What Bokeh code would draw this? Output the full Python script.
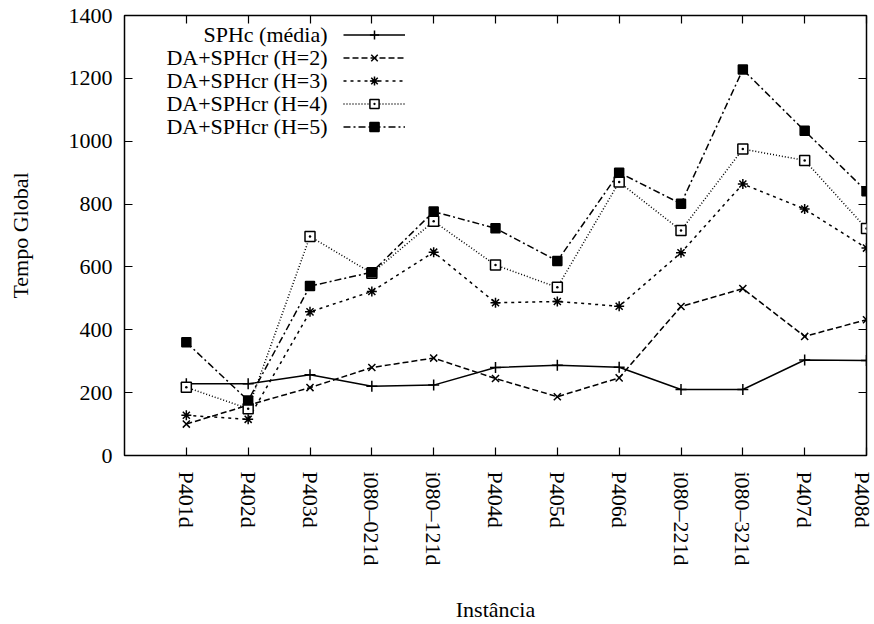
from bokeh.plotting import figure
from bokeh.models import (Range1d, FixedTicker, LinearAxis, Legend, LegendItem, Label)
from bokeh.embed import file_html
from bokeh.resources import INLINE

categories = ["P401d", "P402d", "P403d", "i080–021d", "i080–121d", "P404d",
              "P405d", "P406d", "i080–221d", "i080–321d", "P407d", "P408d"]
sphc = [228, 228, 257, 220, 224, 280, 287, 281, 210, 210, 304, 302]
h2 = [100, 160, 216, 280, 310, 245, 187, 247, 474, 531, 379, 432]
h3 = [128, 115, 457, 522, 647, 486, 490, 475, 645, 864, 784, 660]
h4 = [217, 149, 697, 580, 745, 606, 535, 870, 716, 975, 939, 722]
h5 = [360, 175, 539, 583, 776, 723, 619, 900, 801, 1228, 1033, 841]
y_ticks = [0, 200, 400, 600, 800, 1000, 1200, 1400]

series_names = ["SPHc (média)", "DA+SPHcr (H=2)", "DA+SPHcr (H=3)",
                "DA+SPHcr (H=4)", "DA+SPHcr (H=5)"]

FONT = "'Liberation Serif', serif"
FS = "22px"
xs = list(range(len(categories)))

p = figure(width=874, height=624, output_backend="svg", toolbar_location=None,
           x_range=Range1d(-1, 11), y_range=Range1d(0, 1400),
           min_border_left=124, min_border_right=8, min_border_top=15,
           min_border_bottom=169, background_fill_color="white",
           border_fill_color="white")
p.xgrid.visible = False
p.ygrid.visible = False
p.outline_line_color = "black"
p.outline_line_width = 1.5

for ax in (p.xaxis[0], p.yaxis[0]):
    ax.axis_line_color = None
    ax.major_tick_in = 8
    ax.major_tick_out = 0
    ax.minor_tick_line_color = None
    ax.major_tick_line_color = "black"
    ax.major_tick_line_width = 1.2
    ax.major_label_text_font = FONT
    ax.major_label_text_font_size = FS
    ax.major_label_text_color = "black"
    ax.axis_label_text_font = FONT
    ax.axis_label_text_font_size = FS
    ax.axis_label_text_font_style = "normal"
    ax.axis_label_text_color = "black"

p.xaxis.ticker = FixedTicker(ticks=xs)
p.xaxis.major_label_overrides = {i: c for i, c in enumerate(categories)}
p.xaxis.major_label_orientation = "vertical"
p.xaxis.major_label_standoff = 16
p.xaxis.axis_label = "Instância"
p.xaxis.axis_label_standoff = 28

p.yaxis.ticker = FixedTicker(ticks=y_ticks)
p.yaxis.major_label_standoff = 12
p.yaxis.axis_label = "Tempo Global"
p.yaxis.axis_label_standoff = 33

# mirrored ticks
top = LinearAxis(ticker=FixedTicker(ticks=xs))
right = LinearAxis(ticker=FixedTicker(ticks=y_ticks))
for ax in (top, right):
    ax.axis_line_color = None
    ax.major_tick_in = 8
    ax.major_tick_out = 0
    ax.minor_tick_line_color = None
    ax.major_tick_line_width = 1.2
    ax.major_label_text_font_size = "0px"
    ax.major_label_standoff = 0
    ax.major_label_text_color = None
p.add_layout(top, "above")
p.add_layout(right, "right")

styles = [
    dict(data=sphc, dash="solid", marker="cross", size=11, fill=None),
    dict(data=h2, dash="6 3", marker="x", size=10, fill=None),
    dict(data=h3, dash="3 4", marker="asterisk", size=10, fill=None),
    dict(data=h4, dash="1 2", marker="square_dot", size=10, fill="white"),
    dict(data=h5, dash="7 3 2 3", marker="square", size=9, fill="black"),
]

items = []
for s in styles:
    r1 = p.line(xs, s["data"], line_color="black", line_width=1.5,
                line_dash=s["dash"])
    r2 = p.scatter(xs, s["data"], marker=s["marker"], size=s["size"],
                   line_color="black", line_width=1.5,
                   fill_color=s["fill"] if s["fill"] else None)
    items.append(LegendItem(label=" ", renderers=[r1, r2]))

legend = Legend(items=items, location=(219, 317), glyph_width=62,
                glyph_height=23, spacing=0, padding=0, margin=0,
                label_width=0, label_standoff=0, label_height=23,
                background_fill_alpha=0, border_line_color=None,
                label_text_font_size="1px")
p.add_layout(legend, "center")

row_y = [421, 398, 375, 352, 329]
for name, yy in zip(series_names, row_y):
    p.add_layout(Label(x=203, y=yy, x_units="screen", y_units="screen",
                       text=name, text_align="right", text_baseline="middle",
                       text_font=FONT, text_font_size=FS,
                       text_color="black"))

open("out.html", "w").write(file_html(p, INLINE))
